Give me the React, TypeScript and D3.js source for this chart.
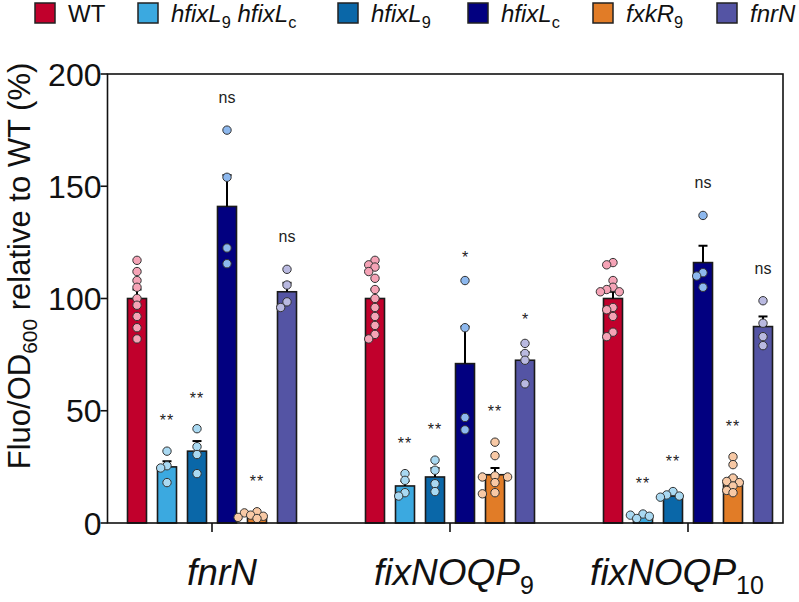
import React from "react";
import * as d3 from "d3";

// ---------- data ----------
const groupNames = ["fnrN", "fixNOQP", "fixNOQP"];
const groupSubs = ["", "9", "10"];

const strainKeys = ["WT", "hh", "L9", "Lc", "fxk", "fnrN"];
// legend label segments: [text, subscript]
const strainLabels: [string, string][][] = [
  [["WT", ""]],
  [["hfixL", "9"], [" hfixL", "c"]],
  [["hfixL", "9"]],
  [["hfixL", "c"]],
  [["fxkR", "9"]],
  [["fnrN", ""]],
];
const strainItalic = [false, true, true, true, true, true];

const barColors = ["#C1002C", "#3BA9E0", "#0A67A8", "#020080", "#E17C27", "#5454A4"];
const dotColors = ["#F5A3B6", "#A9D9F2", "#A9D9F2", "#8DB8EE", "#F8C9A5", "#B9B9E0"];

// means per strain, per group [fnrN, fixNOQP9, fixNOQP10]
const meanWT = [100, 100, 100];
const meanHH = [25, 16.5, 3];
const meanL9 = [32, 20.5, 12];
const meanLc = [141, 71, 116];
const meanFxk = [3, 21.5, 18.5];
const meanFnrN = [103, 72.5, 87.5];

const semWT = [4, 4, 3];
const semHH = [2.5, 2.2, 0.7];
const semL9 = [4.5, 4, 0.8];
const semLc = [14, 16.5, 7.5];
const semFxk = [1, 3, 2];
const semFnrN = [4, 3.5, 4.5];

const ptsWT = [
  [117, 112, 108, 105, 100, 97, 92, 87, 82],
  [117, 115, 114, 112, 109, 104, 100, 96, 92, 88, 84, 82],
  [116, 115, 108, 105, 104, 103, 103, 96, 95, 92, 85, 83],
];
const ptsHH = [
  [32, 25.5, 24.5, 18],
  [22, 19, 13.5, 12],
  [4, 3.5, 3, 2],
];
const ptsL9 = [
  [42, 34, 30.5, 22],
  [28, 23.5, 17.5, 14],
  [14, 12.5, 12, 11.5],
];
const ptsLc = [
  [175, 154, 122.5, 115.5],
  [108, 87, 47, 41.5],
  [137, 111.5, 110, 105],
];
const ptsFxk = [
  [5, 4.5, 3.5, 3, 2.5, 2],
  [36, 30, 21, 20.5, 20.5, 18, 13.5, 13],
  [29.5, 26, 20, 18.5, 18, 16.5, 14.5, 13.5],
];
const ptsFnrN = [
  [113, 106, 98.5, 96],
  [80, 75.5, 72.5, 62],
  [99, 89, 83, 79],
];

const sigWT = ["", "", ""];
const sigHH = ["**", "**", "**"];
const sigL9 = ["**", "**", "**"];
const sigLc = ["ns", "*", "ns"];
const sigFxk = ["**", "**", "**"];
const sigFnrN = ["ns", "*", "ns"];

const yTicks = [0, 50, 100, 150, 200];

const means = [meanWT, meanHH, meanL9, meanLc, meanFxk, meanFnrN];
const sems = [semWT, semHH, semL9, semLc, semFxk, semFnrN];
const points = [ptsWT, ptsHH, ptsL9, ptsLc, ptsFxk, ptsFnrN];
const sigs = [sigWT, sigHH, sigL9, sigLc, sigFxk, sigFnrN];

// ---------- layout ----------
const W = 799;
const H = 602;
const FONT = "'Liberation Sans', Arial, Helvetica, sans-serif";
const left = 107.5, right = 783, top = 74, bottom = 523;

const y = d3.scaleLinear().domain([0, 200]).range([bottom, top]);
const xg = d3.scalePoint<number>().domain([0, 1, 2]).range([212, 688]);
const xs = d3.scalePoint<number>().domain([0, 1, 2, 3, 4, 5]).range([-75, 75]);
const barW = 19;
const R = 4.2;

function swarm(vals: number[]) {
  const placed: { dx: number; py: number }[] = [];
  const sorted = [...vals].sort((a, b) => b - a);
  const step = R * 1.5;
  for (const v of sorted) {
    const py = y(v);
    const cands = [0];
    for (let k = 1; k < 6; k++) cands.push(-k * step, k * step);
    let chosen = 0;
    for (const c of cands) {
      const ok = placed.every((p) => Math.hypot(p.dx - c, p.py - py) >= 2 * R * 0.78);
      if (ok) { chosen = c; break; }
    }
    placed.push({ dx: chosen, py });
  }
  return placed;
}

const legendX = [35, 138, 338, 468, 593, 717];
const groupLabelX = [222, 454, 677];

function RichLabel({ segs, fs }: { segs: [string, string][]; fs: number }) {
  const out: React.ReactNode[] = [];
  const sub = fs * 0.68;
  const dy = fs * 0.25;
  segs.forEach(([t, s], i) => {
    out.push(<tspan key={"t" + i} dy={i > 0 ? -dy : 0} fontSize={fs}>{t}</tspan>);
    if (s) out.push(<tspan key={"s" + i} dy={dy} fontSize={sub} fontStyle="normal">{s}</tspan>);
    else if (i < segs.length - 1) out.push(<tspan key={"z" + i} dy={dy}></tspan>);
  });
  return <>{out}</>;
}

export default function App() {
  return (
    <svg width={W} height={H} style={{ position: "absolute", left: 0, top: 0, background: "#fff" }} fontFamily={FONT}>
      {/* legend */}
      {strainKeys.map((k, i) => (
        <g key={k}>
          <rect x={legendX[i]} y={3} width={20} height={20} fill={barColors[i]} stroke="#222" strokeWidth={1.5} />
          <text x={legendX[i] + 33} y={22} fontStyle={strainItalic[i] ? "italic" : "normal"} fill="#111">
            <RichLabel segs={strainLabels[i]} fs={24} />
          </text>
        </g>
      ))}

      {/* bars, errors, points */}
      {[0, 1, 2].map((g) => (
        <g key={g}>
          {strainKeys.map((k, s) => {
            const cx = (xg(g) as number) + (xs(s) as number);
            const m = means[s][g];
            const e = sems[s][g];
            const pts = swarm(points[s][g]);
            const topVal = Math.max(m + e, ...points[s][g]);
            const sig = sigs[s][g];
            const base = y(topVal);
            let sy = base - 25;
            if (sig === "ns") sy = base - 27;
            if (sig === "*") sy = base - 18;
            return (
              <g key={k}>
                <rect x={cx - barW / 2} y={y(m)} width={barW} height={bottom - y(m)} fill={barColors[s]} stroke="#1a1a1a" strokeWidth={1.6} />
                <line x1={cx} x2={cx} y1={y(m)} y2={y(m + e)} stroke="#000" strokeWidth={2} />
                <line x1={cx - 4.5} x2={cx + 4.5} y1={y(m + e)} y2={y(m + e)} stroke="#000" strokeWidth={2} />
                {pts.map((p, j) => (
                  <circle key={j} cx={cx + p.dx} cy={p.py} r={R} fill={dotColors[s]} stroke="#333" strokeWidth={1} />
                ))}
                {sig && (
                  <text x={cx} y={sy} textAnchor="middle" fontSize={16} letterSpacing={sig === "**" ? 1 : 0} fill="#222">
                    {sig}
                  </text>
                )}
              </g>
            );
          })}
        </g>
      ))}

      {/* frame */}
      <rect x={left} y={top} width={right - left} height={bottom - top} fill="none" stroke="#111" strokeWidth={1.6} />

      {/* y axis */}
      {yTicks.map((t) => (
        <g key={t}>
          <line x1={left - 7} x2={left} y1={y(t)} y2={y(t)} stroke="#111" strokeWidth={1.6} />
          <text x={left - 6} y={y(t)} dy="0.36em" textAnchor="end" fontSize={32} fill="#111">{t}</text>
        </g>
      ))}
      <text transform={`translate(30,266) rotate(-90)`} textAnchor="middle" fontSize={31} fill="#111">
        <tspan>Fluo/OD</tspan>
        <tspan dy={7} fontSize={21}>600</tspan>
        <tspan dy={-7}> relative to WT (%)</tspan>
      </text>

      {/* x axis */}
      {[0, 1, 2].map((g) => (
        <g key={g}>
          <line x1={xg(g)} x2={xg(g)} y1={bottom} y2={bottom + 9} stroke="#111" strokeWidth={1.6} />
          <text x={groupLabelX[g]} y={585} textAnchor="middle" fontStyle="italic" fontSize={37} fill="#111">
            <tspan>{groupNames[g]}</tspan>
            {groupSubs[g] && <tspan dy={9} fontSize={25} fontStyle="normal">{groupSubs[g]}</tspan>}
          </text>
        </g>
      ))}
    </svg>
  );
}
